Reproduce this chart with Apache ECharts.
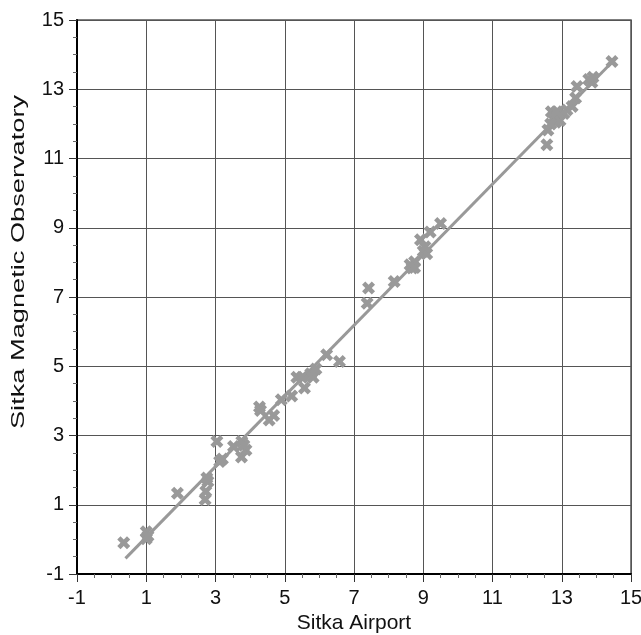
<!DOCTYPE html>
<html>
<head>
<meta charset="utf-8">
<script src="https://cdn.jsdelivr.net/npm/echarts@6/dist/echarts.min.js"></script>
<style>
  html, body { margin: 0; padding: 0; background: #fff; }
  #chart { width: 641px; height: 635px; }
</style>
</head>
<body>
<div id="chart"></div>
<script>
// Daily values: Sitka Airport (x) against Sitka Magnetic Observatory (y)
const airport = [
  0.35, 1.0, 1.0, 1.05, 1.9, 2.7, 2.72, 2.78, 2.75, 3.04,
  3.12, 3.2, 3.52, 3.76, 3.75, 3.88, 3.82, 4.27, 4.3, 4.55,
  4.68, 4.9, 5.2, 5.35, 5.5, 5.57, 5.75, 5.82, 5.9, 6.21,
  6.58, 7.42, 7.38, 8.16, 8.62, 8.68, 8.75, 8.75, 8.92, 9.0,
  9.1, 9.05, 9.2, 9.5, 12.57, 12.6, 12.7, 12.75, 12.82, 12.9,
  12.95, 13.06, 13.15, 13.3, 13.4, 13.44, 13.78, 13.87, 13.9, 14.45,
  12.68, 12.85
];
const observatory = [
  -0.1, 0.02, 0.22, 0.1, 1.33, 1.15, 1.38, 1.67, 1.77, 2.83,
  2.25, 2.32, 2.68, 2.83, 2.38, 2.58, 2.72, 3.82, 3.72, 3.45,
  3.58, 4.03, 4.14, 4.68, 4.68, 4.37, 4.78, 4.68, 4.92, 5.33,
  5.14, 7.26, 6.82, 7.45, 7.93, 7.84, 8.02, 7.85, 8.65, 8.32,
  8.25, 8.45, 8.88, 9.12, 11.4, 11.82, 12.35, 12.15, 12.05, 12.25,
  12.1, 12.3, 12.4, 12.5, 12.75, 13.08, 13.28, 13.2, 13.35, 13.8,
  12.0, 12.35
];
// Fitted line end points
const fitX = [0.4, 14.45];
const fitY = [-0.55, 13.78];
// Axis ticks
const axisMin = -1, axisMax = 15, axisStep = 2;
const xTitle = 'Sitka Airport';
const yTitle = 'Sitka Magnetic Observatory';

const points = airport.map((x, i) => [x, observatory[i]]);
const fitLine = fitX.map((x, i) => [x, fitY[i]]);

const crossPath = 'path://M0,2.5L2.5,0L5,2.5L7.5,0L10,2.5L7.5,5L10,7.5L7.5,10L5,7.5L2.5,10L0,7.5L2.5,5Z';
const font = 'Liberation Sans';

function axisCfg(labelMargin) {
  return {
    type: 'value', min: axisMin, max: axisMax, interval: axisStep,
    axisLine: { show: true, onZero: false, lineStyle: { color: '#000', width: 2 } },
    axisTick: { show: true, inside: false, length: 8, lineStyle: { color: '#333', width: 1 } },
    minorTick: { show: true, splitNumber: 4, length: 4, lineStyle: { color: '#666', width: 1 } },
    axisLabel: { fontFamily: font, fontSize: 20, color: '#111', margin: labelMargin },
    splitLine: { show: true, lineStyle: { color: '#555', width: 1 } }
  };
}

const xAxis = Object.assign(axisCfg(14), {
  name: xTitle, nameLocation: 'middle', nameGap: 37,
  nameTextStyle: { fontFamily: font, fontSize: 21, color: '#111' }
});
const yAxis = axisCfg(13);

const chart = echarts.init(document.getElementById('chart'), null, { renderer: 'canvas' });
chart.setOption({
  animation: false,
  backgroundColor: '#fff',
  grid: {
    left: 77, right: 10, top: 20, bottom: 61,
    outerBoundsMode: 'none', containLabel: false,
    show: true, borderColor: '#555', borderWidth: 1.5
  },
  xAxis: xAxis,
  yAxis: yAxis,
  graphic: [{
    // vertical axis title, drawn tall and narrow
    type: 'text', x: 19, y: 262, rotation: Math.PI / 2, scaleX: 1.36, scaleY: 0.95,
    style: { text: yTitle, font: '20px "Liberation Sans"', fill: '#111', align: 'center', verticalAlign: 'middle' }
  }],
  series: [
    {
      type: 'line', data: fitLine, showSymbol: false, symbol: 'none',
      lineStyle: { color: '#999', width: 3 }, z: 2
    },
    {
      type: 'scatter', data: points, symbol: crossPath, symbolSize: 13,
      itemStyle: { color: '#999', opacity: 1 }, z: 3
    }
  ]
});
</script>
</body>
</html>
